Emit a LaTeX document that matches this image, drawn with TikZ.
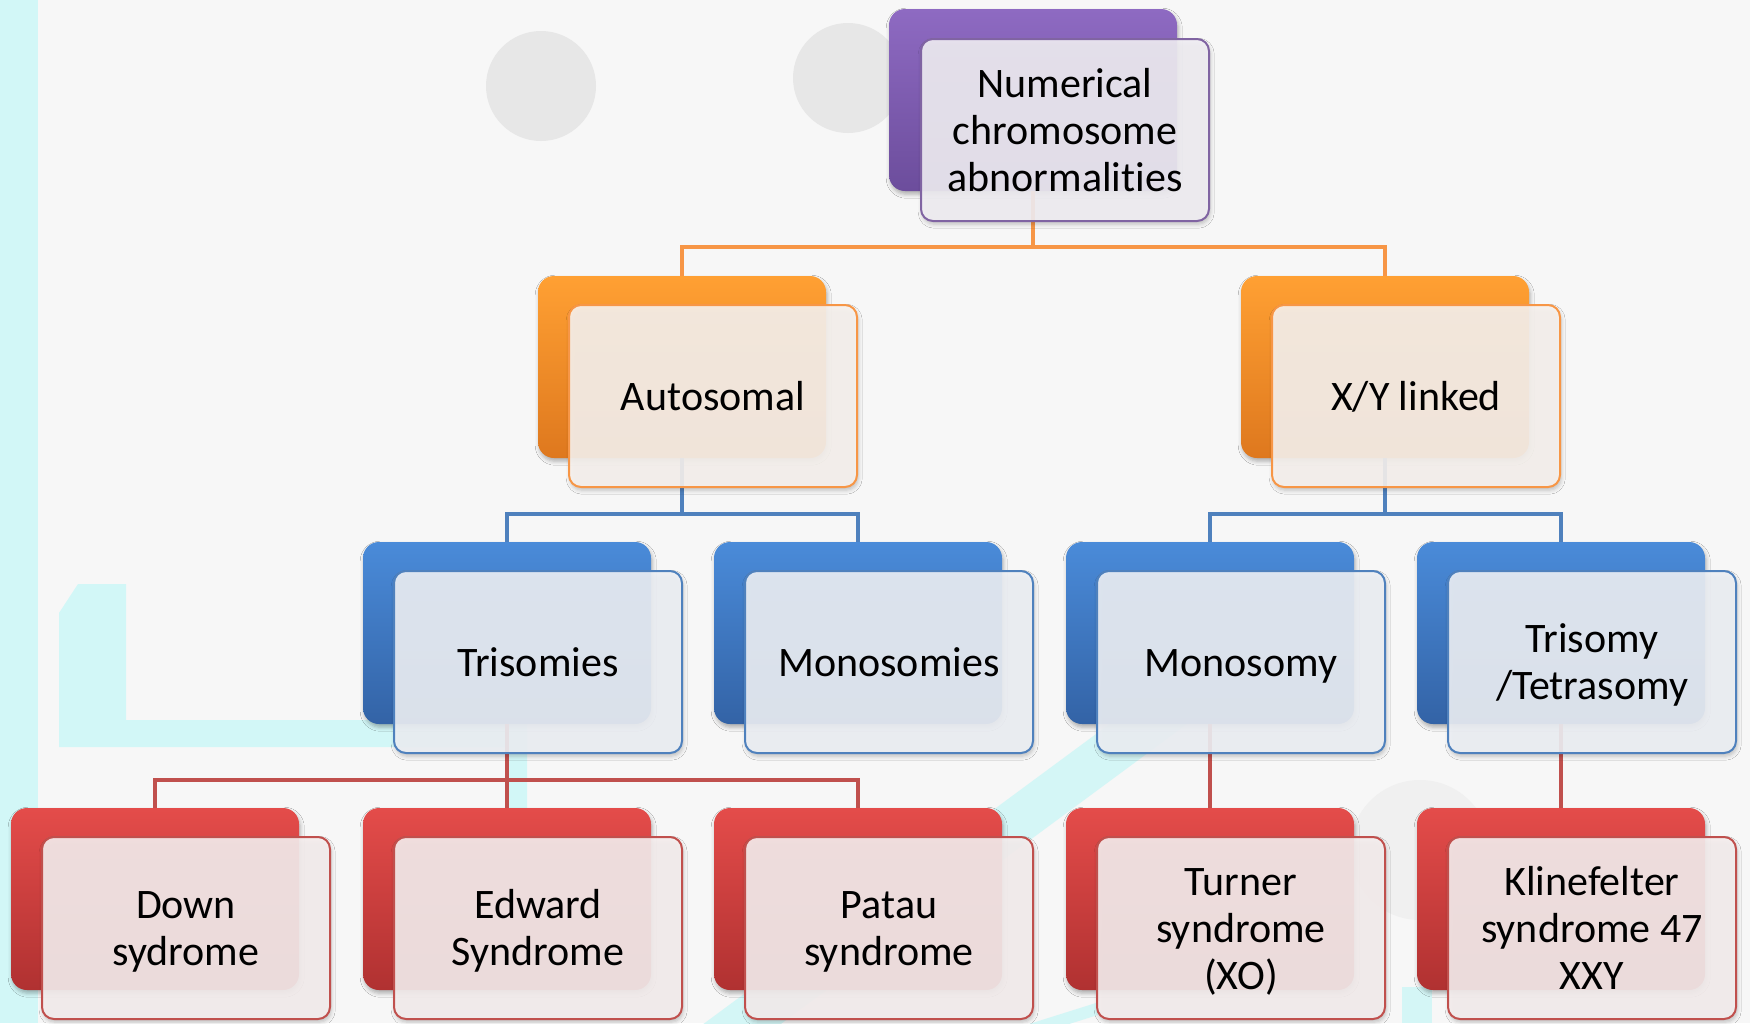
\documentclass[tikz,border=0pt]{standalone}
\usepackage{fontspec}
\setmainfont{Carlito}[Ligatures=NoCommon]
\usetikzlibrary{calc,shadows.blur}
\definecolor{bg}{HTML}{F7F7F7}
\definecolor{cyanbg}{HTML}{D2F7F7}
\definecolor{cyanband}{HTML}{D4F6F6}
\definecolor{dot}{HTML}{E7E7E7}
\definecolor{pTop}{HTML}{8E6AC2}
\definecolor{pBot}{HTML}{6C4D9C}
\definecolor{pLine}{HTML}{8064A2}
\definecolor{pFront}{HTML}{F1EFF4}
\definecolor{oTop}{HTML}{FFA033}
\definecolor{oBot}{HTML}{DE781E}
\definecolor{oLine}{HTML}{F79646}
\definecolor{oFront}{HTML}{F8F3EF}
\definecolor{bTop}{HTML}{4A8BD9}
\definecolor{bBot}{HTML}{3363A6}
\definecolor{bLine}{HTML}{4F81BD}
\definecolor{bFront}{HTML}{EEF1F6}
\definecolor{rTop}{HTML}{E44C4A}
\definecolor{rBot}{HTML}{B03131}
\definecolor{rLine}{HTML}{C0504D}
\definecolor{rFront}{HTML}{F6EFEF}
\newcommand\boxtxt[1]{\raisebox{-2.4pt}[\height][\depth]{\begin{tabular}{@{}c@{}}#1\end{tabular}}}
\begin{document}
\begin{tikzpicture}[x=0.5pt,y=-0.5pt,
  backbox/.style={rounded corners=8pt, minimum width=144pt, minimum height=91pt, inner sep=0pt,
    blur shadow={shadow xshift=0.6pt, shadow yshift=-1.6pt, shadow blur radius=2pt, shadow opacity=30}},
  frontbox/.style={rounded corners=6pt, minimum width=144pt, minimum height=91pt, inner sep=0pt,
    line width=1pt, fill opacity=0.9, text opacity=1,
    font=\fontsize{21}{23.5}\selectfont,
    blur shadow={shadow xshift=0.6pt, shadow yshift=-1.6pt, shadow blur radius=2pt, shadow opacity=25}},
  backP/.style={backbox, top color=pTop, bottom color=pBot},
  backO/.style={backbox, top color=oTop, bottom color=oBot},
  backB/.style={backbox, top color=bTop, bottom color=bBot},
  backR/.style={backbox, top color=rTop, bottom color=rBot},
  frontP/.style={frontbox, draw=pLine, fill=pFront},
  frontO/.style={frontbox, draw=oLine, fill=oFront},
  frontB/.style={frontbox, draw=bLine, fill=bFront},
  frontR/.style={frontbox, draw=rLine, fill=rFront},
  conn/.style={line width=2.4pt},
]
\useasboundingbox (0,0) rectangle (1750,1023);
% background
\fill[bg] (0,0) rectangle (1750,1023);
\fill[cyanbg] (0,0) rectangle (38,1023);
\fill[cyanbg] (59,613) -- (78,584) -- (126,584) -- (126,720) -- (527,720) -- (527,812)
  -- (508,812) -- (508,747) -- (59,747) -- cycle;
\draw[cyanband, line width=23pt] (715,1044) -- (1300,612);
\fill[cyanband] (1402,987) rectangle (1432,1023);
\draw[cyanband, line width=6pt] (1030,1030) -- (1100,1008);
\fill[dot] (541,86) circle (55);
\fill[dot] (848,78) circle (55);
\fill[bg!55!dot] (1420,850) circle (70);

% back boxes
\node[backP] (topb) at (1033,100) {};
\node[backO] (autb) at (682,367) {};
\node[backO] (xyb) at (1385,367) {};
\node[backB] (trib) at (507,633) {};
\node[backB] (monsb) at (858,633) {};
\node[backB] (monyb) at (1210,633) {};
\node[backB] (ttb) at (1561,633) {};
\node[backR] (downb) at (155,899) {};
\node[backR] (edwb) at (507,899) {};
\node[backR] (patb) at (858,899) {};
\node[backR] (turb) at (1210,899) {};
\node[backR] (klib) at (1561,899) {};

% connectors
\coordinate (y1) at (0,247);
\coordinate (y2) at (0,514);
\coordinate (y3) at (0,780);
\draw[conn, oLine] (topb.south) -- (topb.south |- y1) -| (autb.north);
\draw[conn, oLine] (topb.south |- y1) -| (xyb.north);
\draw[conn, bLine] (autb.south) -- (autb.south |- y2) -| (trib.north);
\draw[conn, bLine] (autb.south |- y2) -| (monsb.north);
\draw[conn, bLine] (xyb.south) -- (xyb.south |- y2) -| (monyb.north);
\draw[conn, bLine] (xyb.south |- y2) -| (ttb.north);
\draw[conn, rLine] (trib.south) -- (edwb.north);
\draw[conn, rLine] (trib.south |- y3) -| (downb.north);
\draw[conn, rLine] (trib.south |- y3) -| (patb.north);
\draw[conn, rLine] (monyb.south) -- (turb.north);
\draw[conn, rLine] (ttb.south) -- (klib.north);

% front boxes
\node[frontP] (top) at (1065,130) {\boxtxt{Numerical\\chromosome\\abnormalities}};
\node[frontO] (aut) at (713,396) {\boxtxt{Autosomal}};
\node[frontO] (xy) at (1416,396) {\boxtxt{X/Y linked}};
\node[frontB] (tri) at (538,662) {\boxtxt{Trisomies}};
\node[frontB] (mons) at (889,662) {\boxtxt{Monosomies}};
\node[frontB] (mony) at (1241,662) {\boxtxt{Monosomy}};
\node[frontB] (tt) at (1592,662) {\boxtxt{Trisomy\\/Tetrasomy}};
\node[frontR] (down) at (186,928) {\boxtxt{Down\\sydrome}};
\node[frontR] (edw) at (538,928) {\boxtxt{Edward\\Syndrome}};
\node[frontR] (pat) at (889,928) {\boxtxt{Patau\\syndrome}};
\node[frontR] (tur) at (1241,928) {\boxtxt{Turner\\syndrome\\(XO)}};
\node[frontR] (kli) at (1592,928) {\boxtxt{Klinefelter\\syndrome 47\\XXY}};
\end{tikzpicture}
\end{document}
